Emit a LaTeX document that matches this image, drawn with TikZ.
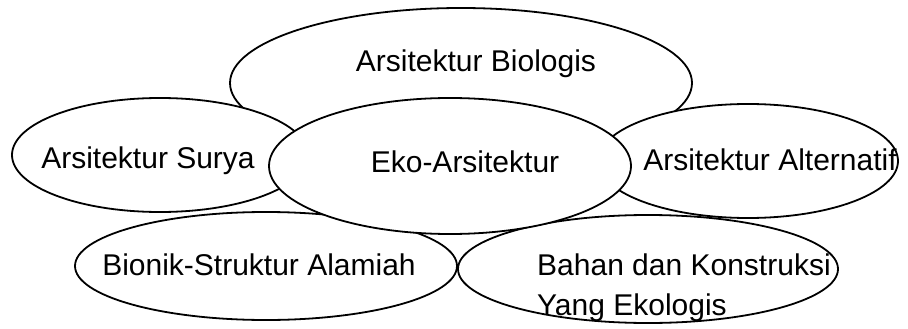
\documentclass[tikz,border=0pt]{standalone}
\usepackage{fontspec}
\setmainfont{Liberation Sans}
\usetikzlibrary{shapes.geometric}

\begin{document}
\begin{tikzpicture}[
  x=1pt, y=-1pt,
  font=\fontsize{30}{40}\selectfont,
  oval/.style={draw, ellipse, fill=white, line width=1.8pt, inner sep=0pt},
  lbl/.style={anchor=base, inner sep=0pt}
]
\useasboundingbox (0,0) rectangle (908,329);
\node[oval, minimum width=462pt, minimum height=150pt] (bio)    at (461,83)  {};
\node[oval, minimum width=382pt, minimum height=108pt] (bionik) at (266,266) {};
\node[oval, minimum width=380pt, minimum height=108pt] (bahan)  at (648,269) {};
\node[oval, minimum width=296pt, minimum height=114pt] (surya)  at (160,155) {};
\node[oval, minimum width=300pt, minimum height=114pt] (alt)    at (748,161) {};
\node[oval, minimum width=362pt, minimum height=136pt] (eko)    at (450,166) {};
\node[lbl] (bio-t)    at (476,72)  {Arsitektur Biologis};
\node[lbl] (surya-t)  at (148,168) {Arsitektur Surya};
\node[lbl] (eko-t)    at (465,172) {Eko-Arsitektur};
\node[lbl] (alt-t)    at (770,170) {Arsitektur Alternatif};
\node[lbl] (bionik-t) at (259,275) {Bionik-Struktur Alamiah};
% base of a two-line node sits on its last line
\node[lbl, anchor=base west, align=left] (bahan-t) at (537,315)
  {Bahan dan Konstruksi\\Yang Ekologis};
\end{tikzpicture}
\end{document}
